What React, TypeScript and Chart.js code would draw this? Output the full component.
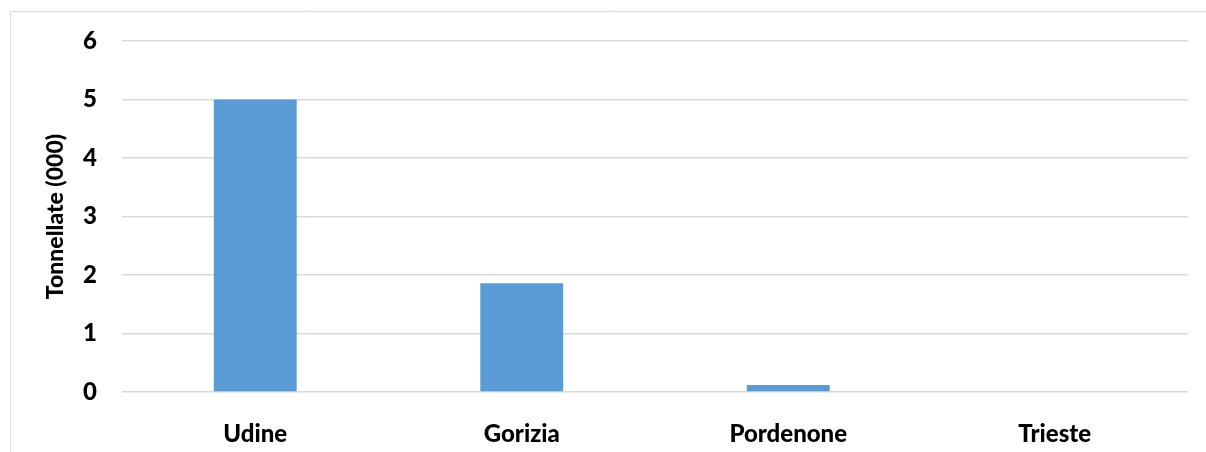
import React, { useEffect, useRef } from "react";
import { Chart, registerables } from "chart.js";

Chart.register(...registerables);

const categories = ["Udine", "Gorizia", "Pordenone", "Trieste"];
const values = [5.0, 1.86, 0.12, 0];
const yTicks = [0, 1, 2, 3, 4, 5, 6];
const yTitle = "Tonnellate (000)";

const FONT = "Lato, 'Liberation Sans', sans-serif";

const framePlugin = {
  id: "frame",
  beforeDraw(chart: any) {
    const ctx = chart.ctx;
    ctx.save();
    ctx.fillStyle = "#ffffff";
    ctx.fillRect(0, 0, chart.width, chart.height);
    ctx.strokeStyle = "#d9d9d9";
    ctx.lineWidth = 1;
    ctx.beginPath();
    ctx.moveTo(10.5, chart.height);
    ctx.lineTo(10.5, 11.5);
    ctx.lineTo(chart.width, 11.5);
    ctx.stroke();
    ctx.restore();
  },
};

export default function App() {
  const ref = useRef<HTMLCanvasElement>(null);
  useEffect(() => {
    document.body.style.overflow = "hidden";
    const chart = new Chart(ref.current!, {
      type: "bar",
      data: {
        labels: categories,
        datasets: [
          {
            data: values,
            backgroundColor: "#5b9bd5",
            borderWidth: 0,
            categoryPercentage: 1,
            barPercentage: 0.311,
          },
        ],
      },
      plugins: [framePlugin],
      options: {
        animation: false,
        responsive: false,
        devicePixelRatio: 1,
        layout: { padding: { left: 0, right: 18, top: 41, bottom: 0 } },
        plugins: { legend: { display: false }, tooltip: { enabled: false } },
        scales: {
          x: {
            grid: { display: false },
            border: { display: false },
            ticks: {
              color: "#000000",
              padding: 20,
              font: { family: FONT, size: 24, weight: 900 },
            },
            afterFit(scale: any) {
              scale.height = 60;
            },
          },
          y: {
            min: 0,
            max: 6,
            afterBuildTicks(scale: any) {
              scale.ticks = yTicks.map((v) => ({ value: v }));
            },
            grid: { color: "#d9d9d9", lineWidth: 1.5, drawTicks: false },
            border: { display: false },
            ticks: {
              color: "#000000",
              padding: 25,
              font: { family: FONT, size: 24, weight: 900 },
            },
            title: {
              display: true,
              text: yTitle,
              color: "#000000",
              padding: { top: 42, bottom: 0 },
              font: { family: FONT, size: 23, weight: 900 },
            },
            afterFit(scale: any) {
              scale.width = 122;
            },
          },
        },
      },
    });
    return () => chart.destroy();
  }, []);
  return (
    <canvas
      ref={ref}
      width={1206}
      height={452}
      style={{ position: "fixed", left: 0, top: 0, width: 1206, height: 452 }}
    />
  );
}
